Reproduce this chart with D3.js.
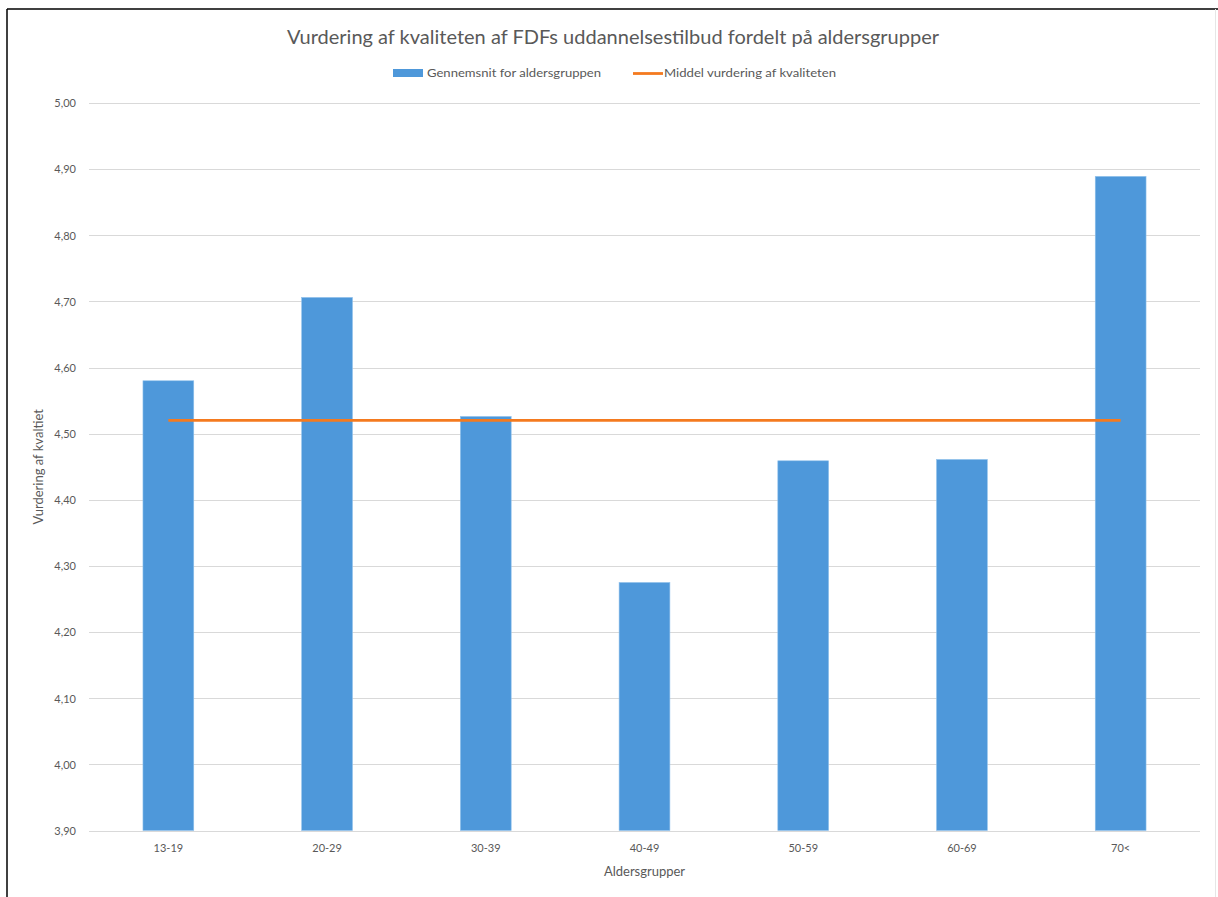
<!DOCTYPE html>
<html>
<head>
<meta charset="utf-8">
<script src="https://cdn.jsdelivr.net/npm/d3@7"></script>
<style>
  html, body { margin: 0; padding: 0; background: #fff; }
  svg { display: block; }
  text { font-family: Lato, "Open Sans", sans-serif; fill: #595959; }
</style>
</head>
<body>
<script>
const categories = ["13-19", "20-29", "30-39", "40-49", "50-59", "60-69", "70<"];
const groupAverages = [4.580, 4.706, 4.526, 4.275, 4.459, 4.461, 4.889];
const overallMean = 4.520;
const yTicks = [3.9, 4.0, 4.1, 4.2, 4.3, 4.4, 4.5, 4.6, 4.7, 4.8, 4.9, 5.0];
const titleText = "Vurdering af kvaliteten af FDFs uddannelsestilbud fordelt på aldersgrupper";
const legendLabels = ["Gennemsnit for aldersgruppen", "Middel vurdering af kvaliteten"];
const xAxisTitle = "Aldersgrupper";
const yAxisTitle = "Vurdering af kvaltiet";

(function () {
const W = 1218, H = 897;
const pLeft = 89, pRight = 1200, pTop = 103, pBottom = 830.5;

const svg = d3.select("body").append("svg").attr("width", W).attr("height", H);

// frame
svg.append("line").attr("x1", 7).attr("x2", 7).attr("y1", 9).attr("y2", H).attr("stroke", "#000").attr("stroke-width", 1.5);
svg.append("line").attr("x1", 7).attr("x2", W).attr("y1", 9).attr("y2", 9).attr("stroke", "#000").attr("stroke-width", 1.5);
svg.append("line").attr("x1", 1215.5).attr("x2", 1215.5).attr("y1", 9).attr("y2", H).attr("stroke", "#e6e6e6").attr("stroke-width", 1);

const x = d3.scaleBand().domain(categories).range([pLeft, pRight]).paddingInner(0.68).paddingOuter(0.34);
const y = d3.scaleLinear().domain([3.9, 5.0]).range([pBottom, pTop]);
const fmt = d => d3.format(".2f")(d).replace(".", ",");

// gridlines
svg.append("g").selectAll("line").data(yTicks).join("line")
  .attr("x1", pLeft).attr("x2", pRight)
  .attr("y1", d => Math.round(y(d)) + 0.5).attr("y2", d => Math.round(y(d)) + 0.5)
  .attr("stroke", "#d9d9d9").attr("stroke-width", 1);

// y axis labels
const yAxis = d3.axisLeft(y).tickValues(yTicks).tickFormat(fmt).tickSize(0).tickPadding(0);
const gy = svg.append("g").attr("transform", `translate(${pLeft - 13},0)`).call(yAxis);
gy.select(".domain").remove();
gy.selectAll("text").style("font-size", "11px").attr("fill", "#595959").attr("dy", "0.35em");

// bars
svg.append("g").selectAll("rect").data(groupAverages).join("rect")
  .attr("x", (d, i) => x(categories[i]))
  .attr("width", x.bandwidth())
  .attr("y", d => y(d))
  .attr("height", d => y(3.9) - y(d))
  .attr("fill", "#4e98da")
  .attr("stroke", "#8fc0ec").attr("stroke-width", 0.6);

// mean line
const cx = c => x(c) + x.bandwidth() / 2;
svg.append("line")
  .attr("x1", cx(categories[0])).attr("x2", cx(categories[categories.length - 1]))
  .attr("y1", y(overallMean)).attr("y2", y(overallMean))
  .attr("stroke", "#f47a1f").attr("stroke-width", 2.8);

// x axis labels
const xAxis = d3.axisBottom(x).tickSize(0).tickPadding(0);
const gx = svg.append("g").attr("transform", `translate(0,${pBottom + 14})`).call(xAxis);
gx.select(".domain").remove();
gx.selectAll("text").style("font-size", "11px").attr("fill", "#595959").attr("dy", "0.71em");

// axis titles
svg.append("text").attr("x", (pLeft + pRight) / 2).attr("y", 876)
  .attr("text-anchor", "middle").style("font-size", "13px").text(xAxisTitle);
svg.append("text").attr("transform", `translate(43,${(pTop + pBottom) / 2}) rotate(-90)`)
  .attr("text-anchor", "middle").style("font-size", "13px").text(yAxisTitle);

// title
svg.append("text").attr("x", 613).attr("y", 44).attr("text-anchor", "middle")
  .attr("textLength", 652).attr("lengthAdjust", "spacingAndGlyphs")
  .style("font-size", "20px").text(titleText);

// legend
const lg = svg.append("g");
lg.append("rect").attr("x", 393).attr("y", 69).attr("width", 30).attr("height", 8).attr("fill", "#4e98da");
lg.append("text").attr("x", 427).attr("y", 77).attr("textLength", 174).attr("lengthAdjust", "spacingAndGlyphs")
  .style("font-size", "11px").text(legendLabels[0]);
lg.append("line").attr("x1", 633).attr("x2", 663).attr("y1", 73.5).attr("y2", 73.5).attr("stroke", "#f47a1f").attr("stroke-width", 2.8);
lg.append("text").attr("x", 664).attr("y", 77).attr("textLength", 172).attr("lengthAdjust", "spacingAndGlyphs")
  .style("font-size", "11px").text(legendLabels[1]);
})();
</script>
</body>
</html>
